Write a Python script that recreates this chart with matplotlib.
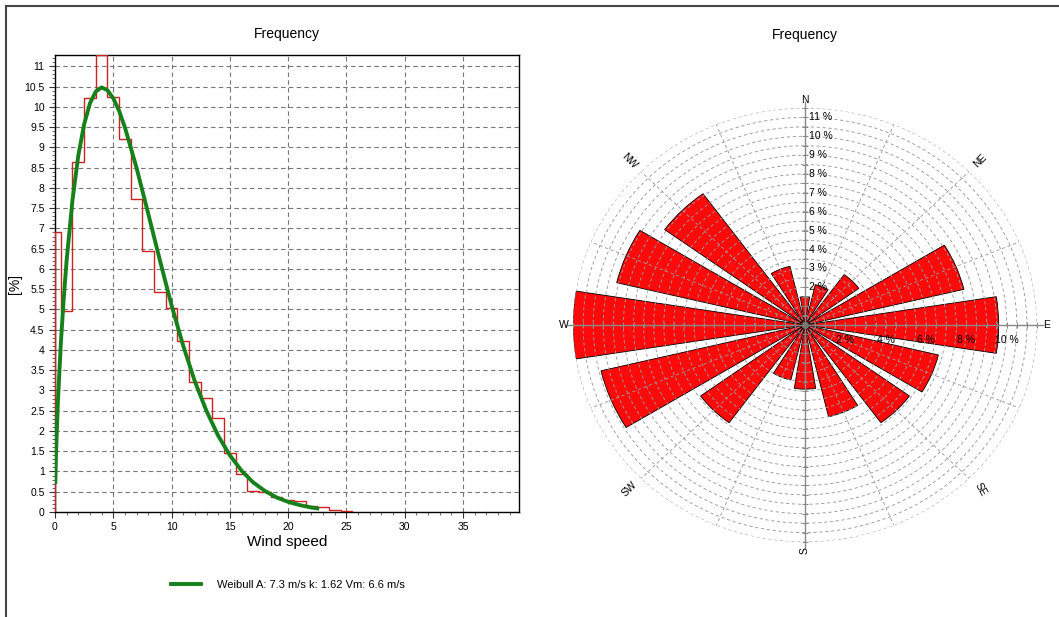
import numpy as np
import matplotlib
matplotlib.use("Agg")
from matplotlib import pyplot as plt
from matplotlib.ticker import MultipleLocator
from matplotlib.lines import Line2D

plt.rcParams['font.family'] = ['Liberation Sans', 'DejaVu Sans']

# histogram of wind speed, bins centred on integers (first bin 0-0.5)
bin_edges = [0, 0.5] + [i + 0.5 for i in range(1, 26)]
freq = [6.9, 4.95, 8.65, 10.21, 11.27, 10.24, 9.2, 7.73, 6.44, 5.44, 5.03,
        4.22, 3.2, 2.82, 2.31, 1.45, 0.94, 0.52, 0.50, 0.36, 0.30, 0.26,
        0.16, 0.12, 0.06, 0.03]

# weibull curve
wb_x = [0.03, 0.1, 0.25, 0.5, 0.75, 1, 1.5, 2, 2.5, 3, 3.5, 4, 4.5, 5, 5.5,
        6, 7, 8, 9, 10, 11, 12, 13, 14, 15, 16, 17, 18, 19, 20, 21, 22, 22.5]
wb_y = [0.74, 1.55, 2.73, 4.16, 5.28, 6.22, 7.70, 8.80, 9.57, 10.09, 10.38,
        10.48, 10.41, 10.21, 9.90, 9.49, 8.49, 7.36, 6.21, 5.10, 4.10, 3.22,
        2.49, 1.88, 1.40, 1.02, 0.73, 0.52, 0.36, 0.25, 0.17, 0.11, 0.09]
wb_label = 'Weibull A: 7.3 m/s k: 1.62 Vm: 6.6 m/s'

# wind rose, 16 sectors clockwise from north, percent
dirs = np.arange(0, 360, 22.5)
rose = [1.5, 2.2, 3.3, 8.1, 9.6, 6.8, 6.4, 5.0, 3.4, 3.0, 6.4, 10.4, 11.5,
        9.6, 8.6, 3.2]

W, H = 1059, 617
fig = plt.figure(figsize=(W / 100, H / 100), dpi=100)

# ---- left: frequency histogram
ax = fig.add_axes([55 / W, 1 - 512 / H, 464 / W, 457 / H])
ax.stairs(freq, bin_edges, baseline=0, color='#d02020', lw=1.0, zorder=3)
ax.plot(wb_x, wb_y, color='#16801a', lw=2.8, zorder=4, label=wb_label)
ax.set_xlim(0, 39.8)
ax.set_ylim(0, 11.28)
ax.xaxis.set_major_locator(MultipleLocator(5))
ax.xaxis.set_minor_locator(MultipleLocator(1))
ax.yaxis.set_major_locator(MultipleLocator(0.5))
ax.yaxis.set_minor_locator(MultipleLocator(0.1))
ax.yaxis.set_major_formatter(lambda v, p: ('%g' % v))
ax.tick_params(labelsize=7.5, length=4, width=0.8, colors='#333333',
               labelcolor='black')
ax.tick_params(which='minor', length=2, width=0.6, colors='#555555')
ax.grid(True, which='major', ls=(0, (4, 3)), color='#777777', lw=0.8)
for s in ax.spines.values():
    s.set_linewidth(1.0)
ax.set_title('Frequency', fontsize=10, pad=12)
ax.set_xlabel('Wind speed', fontsize=11, labelpad=2)
ax.set_ylabel('[%]', fontsize=10, labelpad=2)
ax.legend(loc='center', bbox_to_anchor=(288 / W, 1 - 585 / H),
          bbox_transform=fig.transFigure, frameon=False, fontsize=8,
          handlelength=2.7, handletextpad=1.4)

# ---- right: wind rose
rx = fig.add_axes([573 / W, 1 - 542 / H, 464 / W, 434 / H],
                  projection='polar')
rx.set_theta_zero_location('N')
rx.set_theta_direction(-1)
rx.bar(np.deg2rad(dirs), rose, width=np.deg2rad(18), color='#ff0a0a',
       edgecolor='black', linewidth=0.6, zorder=1)
rx.set_ylim(0, 11.5)
rx.set_yticks(np.arange(0.5, 11.51, 0.5))
rx.set_yticklabels([])
grid_dirs = [d for d in dirs if d % 90 != 0]
rx.set_xticks(np.deg2rad(grid_dirs))
rx.set_xticklabels([])
rx.set_axisbelow(False)
rx.grid(True, ls=(0, (3.5, 3)), color='#9a9a9a', lw=0.65)
rx.spines['polar'].set_visible(False)
rx.set_aspect('auto')
rx.set_title('Frequency', fontsize=10, pad=50)

# cardinal axes with small ticks
for t in [0, 90, 180, 270]:
    th = np.deg2rad(t)
    rx.plot([th, th], [0, 11.8], color='#888888', lw=1.0, zorder=3,
            clip_on=False)
    mk = '_' if t in (0, 180) else '|'
    rx.plot([th] * 23, np.arange(0.5, 11.51, 0.5), ls='none', marker=mk,
            ms=4, mew=0.7, color='#888888', zorder=3, clip_on=False)
rx.plot([0], [0], marker='o', ms=4, color='#777777', zorder=4)

for k in range(2, 12):
    rx.annotate('%d %%' % k, xy=(0, k), xytext=(3, 0),
                textcoords='offset points', ha='left', va='center',
                fontsize=7.5, zorder=5)
for k in range(2, 11, 2):
    rx.annotate('%d %%' % k, xy=(np.pi / 2, k), xytext=(0, -11),
                textcoords='offset points', ha='center', va='center',
                fontsize=7.5, zorder=5)

for name, t, rot in [('N', 0, 0), ('E', 90, 0), ('S', 180, 90),
                     ('W', 270, 0)]:
    rx.text(np.deg2rad(t), 11.95, name, fontsize=7.5, ha='center',
            va='center', rotation=rot, clip_on=False)
for name, t, rot in [('NE', 45, 45), ('SE', 135, -60), ('SW', 225, 45),
                     ('NW', 315, -45)]:
    rx.text(np.deg2rad(t), 12.3, name, fontsize=7.5, ha='center',
            va='center', rotation=rot, clip_on=False)

# outer frame lines (left and top)
fig.add_artist(Line2D([6 / W, 6 / W], [0, 1 - 6 / H], color='#444444',
                      lw=1.5))
fig.add_artist(Line2D([6 / W, 1], [1 - 6 / H, 1 - 6 / H], color='#444444',
                      lw=1.5))

fig.savefig('out.png', dpi=100)
